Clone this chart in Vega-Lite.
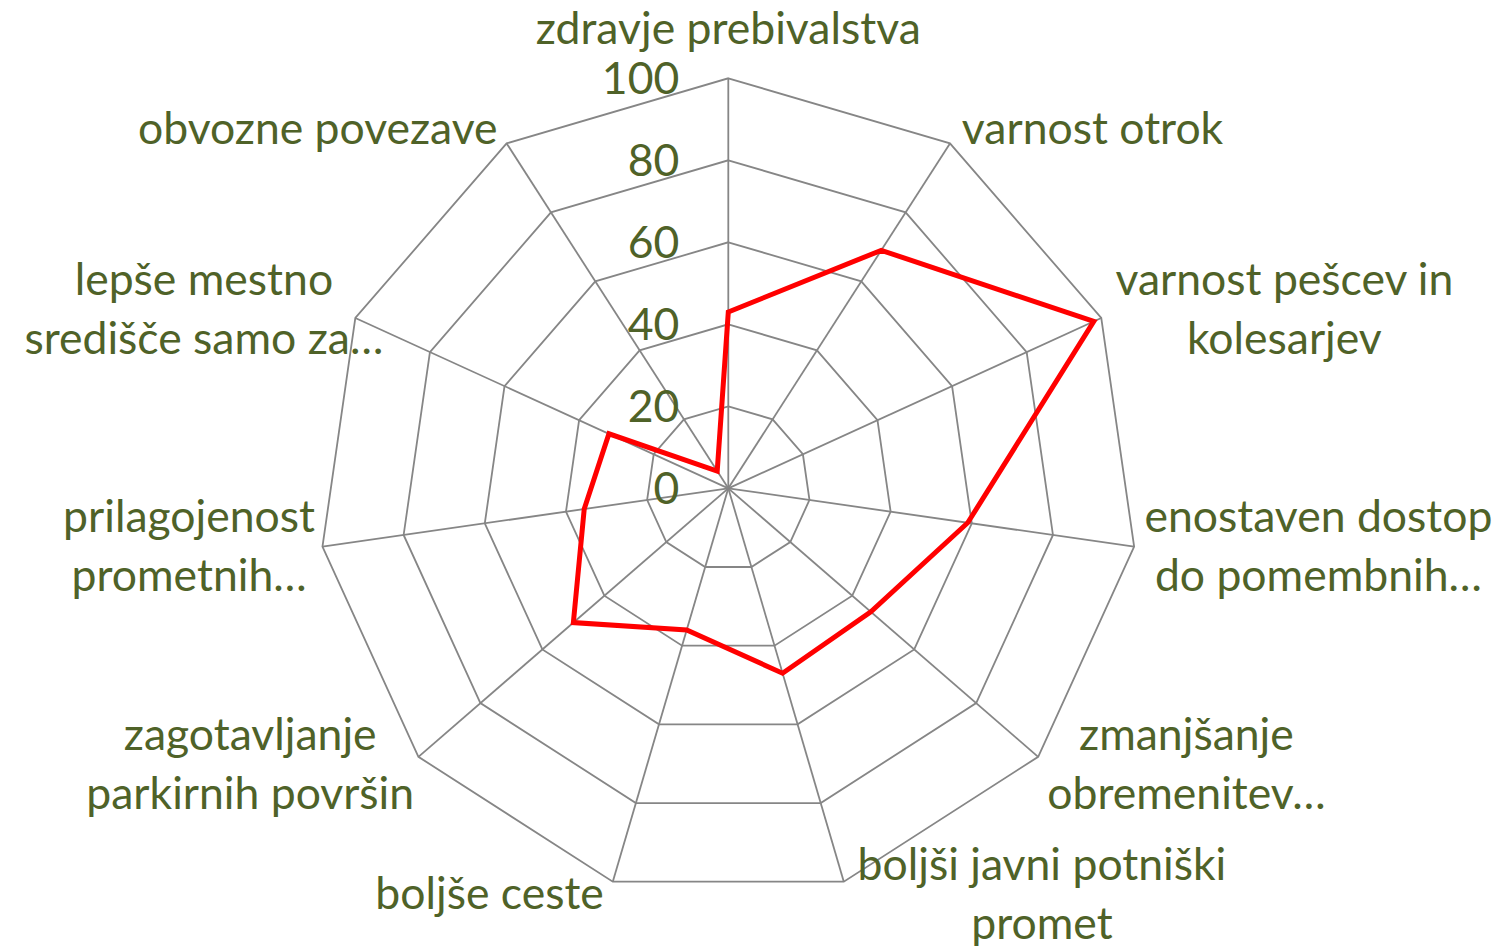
{
  "$schema": "https://vega.github.io/schema/vega-lite/v6.json",
  "width": 1511,
  "height": 946,
  "autosize": {"type": "none"},
  "padding": 0,
  "background": "white",
  "config": {"view": {"stroke": null}},
  "datasets": {
    "scores": [
      {"category": "zdravje prebivalstva", "label": "zdravje prebivalstva", "value": 43},
      {"category": "varnost otrok", "label": "varnost otrok", "value": 69},
      {"category": "varnost pešcev in kolesarjev", "label": "varnost pešcev in\nkolesarjev", "value": 98},
      {"category": "enostaven dostop do pomembnih…", "label": "enostaven dostop\ndo pomembnih…", "value": 59},
      {"category": "zmanjšanje obremenitev…", "label": "zmanjšanje\nobremenitev…", "value": 46},
      {"category": "boljši javni potniški promet", "label": "boljši javni potniški\npromet", "value": 47},
      {"category": "boljše ceste", "label": "boljše ceste", "value": 36},
      {"category": "zagotavljanje parkirnih površin", "label": "zagotavljanje\nparkirnih površin", "value": 50},
      {"category": "prilagojenost prometnih…", "label": "prilagojenost\nprometnih…", "value": 35.5},
      {"category": "lepše mestno središče samo za…", "label": "lepše mestno\nsredišče samo za…", "value": 32},
      {"category": "obvozne povezave", "label": "obvozne povezave", "value": 5}
    ],
    "levels": [
      {"level": 0}, {"level": 20}, {"level": 40}, {"level": 60}, {"level": 80}, {"level": 100}
    ]
  },
  "layer": [
    {
      "data": {"name": "scores"},
      "transform": [
        {"window": [{"op": "row_number", "as": "rn"}]},
        {"calculate": "(datum.rn - 1) * 2 * PI / 11", "as": "a"},
        {"calculate": "[20, 40, 60, 80, 100]", "as": "lv"},
        {"flatten": ["lv"]},
        {"calculate": "datum.lv * sin(datum.a)", "as": "px"},
        {"calculate": "datum.lv * cos(datum.a)", "as": "py"}
      ],
      "mark": {"type": "line", "interpolate": "linear-closed", "color": "#868686", "strokeWidth": 1.8},
      "encoding": {
        "x": {"field": "px", "type": "quantitative", "axis": null, "scale": {"domain": [-177.63, 190.9], "nice": false, "zero": false}},
        "y": {"field": "py", "type": "quantitative", "axis": null, "scale": {"domain": [-111.63, 119.1], "nice": false, "zero": false}},
        "detail": {"field": "lv", "type": "nominal"},
        "order": {"field": "rn", "type": "quantitative"}
      }
    },
    {
      "data": {"name": "scores"},
      "transform": [
        {"window": [{"op": "row_number", "as": "rn"}]},
        {"calculate": "(datum.rn - 1) * 2 * PI / 11", "as": "a"},
        {"calculate": "100 * sin(datum.a)", "as": "gx"},
        {"calculate": "100 * cos(datum.a)", "as": "gy"}
      ],
      "mark": {"type": "rule", "color": "#868686", "strokeWidth": 1.8},
      "encoding": {
        "x": {"field": "gx", "type": "quantitative", "axis": null, "scale": {"domain": [-177.63, 190.9], "nice": false, "zero": false}},
        "y": {"field": "gy", "type": "quantitative", "axis": null, "scale": {"domain": [-111.63, 119.1], "nice": false, "zero": false}},
        "x2": {"datum": 0},
        "y2": {"datum": 0}
      }
    },
    {
      "data": {"name": "scores"},
      "transform": [
        {"window": [{"op": "row_number", "as": "rn"}]},
        {"calculate": "(datum.rn - 1) * 2 * PI / 11", "as": "a"},
        {"calculate": "datum.value * sin(datum.a)", "as": "vx"},
        {"calculate": "datum.value * cos(datum.a)", "as": "vy"}
      ],
      "mark": {"type": "line", "interpolate": "linear-closed", "color": "#FF0000", "strokeWidth": 5, "strokeJoin": "miter"},
      "encoding": {
        "x": {"field": "vx", "type": "quantitative", "axis": null, "scale": {"domain": [-177.63, 190.9], "nice": false, "zero": false}},
        "y": {"field": "vy", "type": "quantitative", "axis": null, "scale": {"domain": [-111.63, 119.1], "nice": false, "zero": false}},
        "order": {"field": "rn", "type": "quantitative"}
      }
    },
    {
      "data": {"name": "levels"},
      "mark": {"type": "text", "align": "right", "baseline": "middle", "dx": -49, "dy": 3, "font": "Lato", "fontSize": 44.5, "color": "#4F6228"},
      "encoding": {
        "x": {"datum": 0, "type": "quantitative", "axis": null, "scale": {"domain": [-177.63, 190.9], "nice": false, "zero": false}},
        "y": {"field": "level", "type": "quantitative", "axis": null, "scale": {"domain": [-111.63, 119.1], "nice": false, "zero": false}},
        "text": {"field": "level", "type": "quantitative"}
      }
    },
    {
      "data": {"name": "scores"},
      "transform": [
        {"window": [{"op": "row_number", "as": "rn"}]},
        {"calculate": "(datum.rn - 1) * 2 * PI / 11", "as": "a"},
        {"filter": "sin(datum.a) > 0.05 && indexof(datum.label, '\\n') < 0"},
        {"calculate": "100 * sin(datum.a) + 2.9", "as": "lx"},
        {"calculate": "103.7 * cos(datum.a)", "as": "ly"}
      ],
      "mark": {"type": "text", "align": "left", "baseline": "middle", "font": "Lato", "fontSize": 44.5, "color": "#4F6228"},
      "encoding": {
        "x": {"field": "lx", "type": "quantitative", "axis": null, "scale": {"domain": [-177.63, 190.9], "nice": false, "zero": false}},
        "y": {"field": "ly", "type": "quantitative", "axis": null, "scale": {"domain": [-111.63, 119.1], "nice": false, "zero": false}},
        "text": {"field": "label", "type": "nominal"}
      }
    },
    {
      "data": {"name": "scores"},
      "transform": [
        {"window": [{"op": "row_number", "as": "rn"}]},
        {"calculate": "(datum.rn - 1) * 2 * PI / 11", "as": "a"},
        {"filter": "sin(datum.a) > 0.05 && indexof(datum.label, '\\n') >= 0"},
        {"calculate": "split(datum.label, '\\n')[0]", "as": "l0"},
        {"calculate": "split(datum.label, '\\n')[1]", "as": "l1"},
        {"calculate": "length(datum.l0) + 0.5 * (length(datum.l0) - length(replace(datum.l0, /[mw…]/g, ''))) - 0.55 * (length(datum.l0) - length(replace(datum.l0, /[iljtrf ]/g, '')))", "as": "e0"},
        {"calculate": "length(datum.l1) + 0.5 * (length(datum.l1) - length(replace(datum.l1, /[mw…]/g, ''))) - 0.55 * (length(datum.l1) - length(replace(datum.l1, /[iljtrf ]/g, '')))", "as": "e1"},
        {"calculate": "max(datum.e0, datum.e1) * 2.93", "as": "half"},
        {"calculate": "min(100 * sin(datum.a) + 2.9 + datum.half, 189.4 - datum.half)", "as": "lx"},
        {"calculate": "103.7 * cos(datum.a) + 7.2", "as": "ly"}
      ],
      "mark": {"type": "text", "align": "center", "baseline": "middle", "font": "Lato", "fontSize": 44.5, "lineHeight": 59, "lineBreak": "\n", "color": "#4F6228"},
      "encoding": {
        "x": {"field": "lx", "type": "quantitative", "axis": null, "scale": {"domain": [-177.63, 190.9], "nice": false, "zero": false}},
        "y": {"field": "ly", "type": "quantitative", "axis": null, "scale": {"domain": [-111.63, 119.1], "nice": false, "zero": false}},
        "text": {"field": "label", "type": "nominal"}
      }
    },
    {
      "data": {"name": "scores"},
      "transform": [
        {"window": [{"op": "row_number", "as": "rn"}]},
        {"calculate": "(datum.rn - 1) * 2 * PI / 11", "as": "a"},
        {"filter": "sin(datum.a) < -0.05 && indexof(datum.label, '\\n') < 0"},
        {"calculate": "100 * sin(datum.a) - 2.2", "as": "lx"},
        {"calculate": "103.7 * cos(datum.a)", "as": "ly"}
      ],
      "mark": {"type": "text", "align": "right", "baseline": "middle", "font": "Lato", "fontSize": 44.5, "color": "#4F6228"},
      "encoding": {
        "x": {"field": "lx", "type": "quantitative", "axis": null, "scale": {"domain": [-177.63, 190.9], "nice": false, "zero": false}},
        "y": {"field": "ly", "type": "quantitative", "axis": null, "scale": {"domain": [-111.63, 119.1], "nice": false, "zero": false}},
        "text": {"field": "label", "type": "nominal"}
      }
    },
    {
      "data": {"name": "scores"},
      "transform": [
        {"window": [{"op": "row_number", "as": "rn"}]},
        {"calculate": "(datum.rn - 1) * 2 * PI / 11", "as": "a"},
        {"filter": "sin(datum.a) < -0.05 && indexof(datum.label, '\\n') >= 0"},
        {"calculate": "split(datum.label, '\\n')[0]", "as": "l0"},
        {"calculate": "split(datum.label, '\\n')[1]", "as": "l1"},
        {"calculate": "length(datum.l0) + 0.5 * (length(datum.l0) - length(replace(datum.l0, /[mw…]/g, ''))) - 0.55 * (length(datum.l0) - length(replace(datum.l0, /[iljtrf ]/g, '')))", "as": "e0"},
        {"calculate": "length(datum.l1) + 0.5 * (length(datum.l1) - length(replace(datum.l1, /[mw…]/g, ''))) - 0.55 * (length(datum.l1) - length(replace(datum.l1, /[iljtrf ]/g, '')))", "as": "e1"},
        {"calculate": "max(datum.e0, datum.e1) * 2.93", "as": "half"},
        {"calculate": "max(100 * sin(datum.a) - 2.5 - datum.half, -174.2 + datum.half)", "as": "lx"},
        {"calculate": "103.7 * cos(datum.a) + 7.2", "as": "ly"}
      ],
      "mark": {"type": "text", "align": "center", "baseline": "middle", "font": "Lato", "fontSize": 44.5, "lineHeight": 59, "lineBreak": "\n", "color": "#4F6228"},
      "encoding": {
        "x": {"field": "lx", "type": "quantitative", "axis": null, "scale": {"domain": [-177.63, 190.9], "nice": false, "zero": false}},
        "y": {"field": "ly", "type": "quantitative", "axis": null, "scale": {"domain": [-111.63, 119.1], "nice": false, "zero": false}},
        "text": {"field": "label", "type": "nominal"}
      }
    },
    {
      "data": {"name": "scores"},
      "transform": [
        {"window": [{"op": "row_number", "as": "rn"}]},
        {"calculate": "(datum.rn - 1) * 2 * PI / 11", "as": "a"},
        {"filter": "abs(sin(datum.a)) <= 0.05"},
        {"calculate": "100 * sin(datum.a)", "as": "lx"},
        {"calculate": "100 * cos(datum.a)", "as": "ly"}
      ],
      "mark": {"type": "text", "align": "center", "baseline": "middle", "dy": -47, "font": "Lato", "fontSize": 44.5, "color": "#4F6228"},
      "encoding": {
        "x": {"field": "lx", "type": "quantitative", "axis": null, "scale": {"domain": [-177.63, 190.9], "nice": false, "zero": false}},
        "y": {"field": "ly", "type": "quantitative", "axis": null, "scale": {"domain": [-111.63, 119.1], "nice": false, "zero": false}},
        "text": {"field": "label", "type": "nominal"}
      }
    }
  ]
}
